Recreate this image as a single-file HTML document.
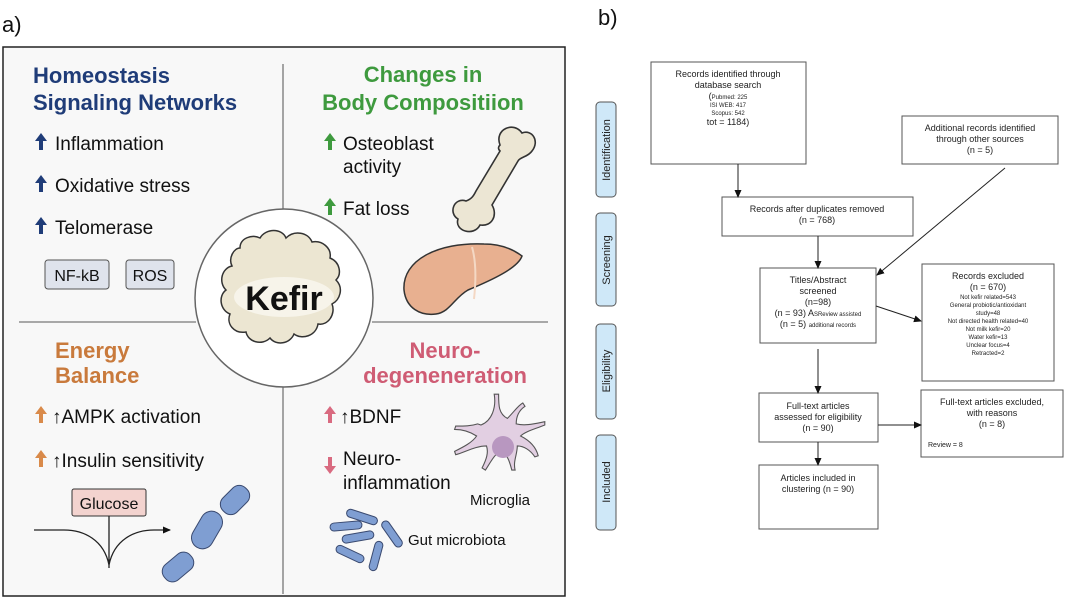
<!DOCTYPE html>
<html><head><meta charset="utf-8"><style>
html,body{margin:0;padding:0;background:#fff;width:1065px;height:599px;overflow:hidden;}
svg{display:block;font-family:"Liberation Sans",Arial,sans-serif;}
</style></head><body>
<svg width="1065" height="599" viewBox="0 0 1065 599" xmlns="http://www.w3.org/2000/svg">
<defs>
<marker id="ah" markerWidth="8" markerHeight="8" refX="7" refY="4" orient="auto" markerUnits="userSpaceOnUse"><path d="M0,0.5 L8,4 L0,7.5z" fill="#111"/></marker>
</defs>
<text x="2" y="32" font-size="22" fill="#111">a)</text>
<rect x="3" y="47" width="562" height="549" fill="#f8f8f8" stroke="#222" stroke-width="1.5"/>
<line x1="283" y1="64" x2="283" y2="212" stroke="#777" stroke-width="1.3"/>
<line x1="283" y1="386" x2="283" y2="594" stroke="#777" stroke-width="1.3"/>
<line x1="19" y1="322" x2="196" y2="322" stroke="#777" stroke-width="1.3"/>
<line x1="372" y1="322" x2="548" y2="322" stroke="#777" stroke-width="1.3"/>

<g font-weight="bold" font-size="22" fill="#1f3c78">
<text x="33" y="83">Homeostasis</text>
<text x="33" y="110">Signaling Networks</text>
</g>
<g font-size="19" fill="#111">
<text x="55" y="150">Inflammation</text>
<text x="55" y="192">Oxidative stress</text>
<text x="55" y="234">Telomerase</text>
</g>
<g fill="#1f3c78">
<path d="M41,133 l-6,8 h4 v9 h4 v-9 h4z"/>
<path d="M41,175 l-6,8 h4 v9 h4 v-9 h4z"/>
<path d="M41,217 l-6,8 h4 v9 h4 v-9 h4z"/>
</g>
<rect x="45" y="260" width="64" height="29" rx="3" fill="#dfe3ec" stroke="#555"/>
<text x="77" y="281" font-size="16" text-anchor="middle" fill="#111">NF-kB</text>
<rect x="126" y="260" width="48" height="29" rx="3" fill="#dfe3ec" stroke="#555"/>
<text x="150" y="281" font-size="16" text-anchor="middle" fill="#111">ROS</text>

<g font-weight="bold" font-size="22" fill="#3e9a3e" text-anchor="middle">
<text x="423" y="82">Changes in</text>
<text x="423" y="110">Body Compositiion</text>
</g>
<g font-size="19" fill="#111">
<text x="343" y="150">Osteoblast</text>
<text x="343" y="173">activity</text>
<text x="343" y="215">Fat loss</text>
</g>
<g fill="#3e9a3e">
<path d="M330,133 l-6,8 h4 v9 h4 v-9 h4z"/>
<path d="M330,198 l-6,8 h4 v9 h4 v-9 h4z"/>
</g>
<g fill="#ece6d4" stroke="#333" stroke-width="1.6">
<path d="M500,145 c-6,-16 14,-24 22,-12 c10,-4 18,8 10,18 c-4,6 -12,6 -14,10 l-26,44 c6,10 0,22 -12,20 c-6,12 -26,6 -22,-6 c-10,-6 -4,-22 8,-18 c6,-2 8,-6 10,-10 l24,-40 c-2,-2 -2,-4 0,-6z"/>
</g>
<path d="M404,290 c-2,-30 34,-48 80,-46 c18,0 30,6 38,12 c-4,12 -30,24 -54,34 c-14,8 -18,22 -32,24 c-16,2 -30,-6 -32,-24z" fill="#e8b090" stroke="#333" stroke-width="1.5"/>
<path d="M472,247 c4,14 4,34 2,52" stroke="#f4d8c4" stroke-width="2" fill="none"/>

<g font-weight="bold" font-size="22" fill="#c97a3c">
<text x="55" y="358">Energy</text>
<text x="55" y="383">Balance</text>
</g>
<g font-size="19" fill="#111">
<text x="52" y="423">↑AMPK activation</text>
<text x="52" y="467">↑Insulin sensitivity</text>
</g>
<g fill="#d98a4a">
<path d="M41,406 l-6,8 h4 v9 h4 v-9 h4z"/>
<path d="M41,450 l-6,8 h4 v9 h4 v-9 h4z"/>
</g>
<rect x="72" y="489" width="74" height="27" rx="2" fill="#f3d3cf" stroke="#333"/>
<text x="109" y="509" font-size="16" text-anchor="middle" fill="#111">Glucose</text>
<path d="M109,516 v52 M34,530 h30 c20,0 40,10 45,35 c5,-25 25,-35 45,-35 h16" stroke="#222" stroke-width="1.3" fill="none" marker-end="url(#ah)"/>
<g fill="#7f9ed2" stroke="#3a4a70" stroke-width="1">
<rect x="-16" y="-10" width="32" height="20" rx="9" transform="translate(235 500) rotate(-45)"/>
<rect x="-20" y="-11" width="40" height="22" rx="11" transform="translate(207 530) rotate(-60)"/>
<rect x="-17" y="-10" width="34" height="20" rx="9" transform="translate(178 567) rotate(-40)"/>
</g>

<g font-weight="bold" font-size="22" fill="#cf5c74" text-anchor="middle">
<text x="445" y="358">Neuro-</text>
<text x="445" y="383">degeneneration</text>
</g>
<g font-size="19" fill="#111">
<text x="340" y="423">↑BDNF</text>
<text x="343" y="465">Neuro-</text>
<text x="343" y="489">inflammation</text>
<text x="470" y="505" font-size="15">Microglia</text>
<text x="408" y="545" font-size="15">Gut microbiota</text>
</g>
<g fill="#d96a80">
<path d="M330,406 l-6,8 h4 v9 h4 v-9 h4z"/>
<path d="M330,474 l-6,-8 h4 v-9 h4 v9 h4z"/>
</g>
<g stroke="#555" stroke-width="1" fill="#e2cfe2" transform="translate(503 447) scale(1.1) translate(-500 -440)">
<path d="M480,420 c10,-4 14,-16 12,-28 l4,0 c0,10 0,18 8,22 c6,-6 10,-12 14,-14 l2,3 c-6,4 -8,10 -8,16 c8,2 16,0 26,-2 l0,3 c-10,4 -18,6 -22,10 c8,4 14,10 16,18 l-3,1 c-4,-6 -10,-10 -16,-10 c0,8 -4,14 -2,22 l-3,0 c-2,-8 -4,-14 -10,-18 c-6,4 -10,12 -14,18 l-3,-2 c4,-8 6,-14 4,-20 c-10,0 -20,6 -28,8 l-1,-3 c8,-4 16,-8 20,-14 c-6,-4 -12,-6 -20,-6 l1,-3 c8,0 14,0 20,-2z"/>
<circle cx="500" cy="440" r="10" fill="#b897c0" stroke="none"/>
</g>
<g fill="#7f9ed2" stroke="#3a4a70" stroke-width="1">
<rect x="-16" y="-4" width="32" height="8" rx="4" transform="translate(362 517) rotate(18)"/>
<rect x="-16" y="-4" width="32" height="8" rx="4" transform="translate(346 526) rotate(-5)"/>
<rect x="-16" y="-4" width="32" height="8" rx="4" transform="translate(358 537) rotate(-10)"/>
<rect x="-15" y="-4" width="30" height="8" rx="4" transform="translate(350 554) rotate(25)"/>
<rect x="-15" y="-4" width="30" height="8" rx="4" transform="translate(392 534) rotate(55)"/>
<rect x="-15" y="-4" width="30" height="8" rx="4" transform="translate(376 556) rotate(-75)"/>
</g>

<circle cx="284" cy="298" r="89" fill="#fff" stroke="#666" stroke-width="1.5"/>
<path d="M240,248 c0,-10 12,-14 20,-10 c6,-10 22,-10 26,0 c8,-8 22,-6 26,4 c10,-2 20,6 18,16 c10,4 12,16 6,22 c8,8 4,20 -4,24 c4,10 -4,22 -14,20 c-2,12 -16,16 -24,10 c-4,10 -18,12 -24,4 c-8,8 -22,4 -24,-6 c-12,2 -20,-8 -16,-18 c-10,-4 -12,-18 -4,-24 c-8,-8 -4,-22 6,-24 c-4,-8 2,-18 8,-18z" fill="#ece6d2" stroke="#333" stroke-width="1.5"/>
<ellipse cx="284" cy="297" rx="50" ry="20" fill="#f7f4ea"/>
<text x="284" y="310" font-size="34" font-weight="bold" text-anchor="middle" fill="#111">Kefir</text>

<text x="598" y="25" font-size="22" fill="#111">b)</text>
<g fill="#cfe8f8" stroke="#555" stroke-width="1">
<rect x="596" y="102" width="20" height="95" rx="4"/>
<rect x="596" y="213" width="20" height="93" rx="4"/>
<rect x="596" y="324" width="20" height="95" rx="4"/>
<rect x="596" y="435" width="20" height="95" rx="4"/>
</g>
<g font-size="11" fill="#222" text-anchor="middle">
<text transform="translate(610 150) rotate(-90)">Identification</text>
<text transform="translate(610 260) rotate(-90)">Screening</text>
<text transform="translate(610 371) rotate(-90)">Eligibility</text>
<text transform="translate(610 482) rotate(-90)">Included</text>
</g>
<g fill="#fff" stroke="#555" stroke-width="1">
<rect x="651" y="62" width="155" height="102"/>
<rect x="902" y="116" width="156" height="48"/>
<rect x="722" y="197" width="191" height="39"/>
<rect x="760" y="268" width="116" height="75"/>
<rect x="922" y="264" width="132" height="117"/>
<rect x="759" y="393" width="119" height="49"/>
<rect x="921" y="390" width="142" height="67"/>
<rect x="759" y="465" width="119" height="64"/>
</g>
<g font-size="9" fill="#222" text-anchor="middle">
<text x="728" y="77">Records identified through</text>
<text x="728" y="88">database search</text>
<text x="728" y="99"><tspan font-size="9">(</tspan><tspan font-size="6">Pubmed: 225</tspan></text>
<text x="728" y="107" font-size="6">ISI WEB: 417</text>
<text x="728" y="115" font-size="6">Scopus: 542</text>
<text x="728" y="125">tot = 1184)</text>
<text x="980" y="131">Additional records identified</text>
<text x="980" y="142">through other sources</text>
<text x="980" y="153">(n = 5)</text>
<text x="817" y="212">Records after duplicates removed</text>
<text x="817" y="223">(n = 768)</text>
<text x="818" y="283">Titles/Abstract</text>
<text x="818" y="294">screened</text>
<text x="818" y="305">(n=98)</text>
<text x="818" y="316">(n = 93) A<tspan font-size="6">SReview assisted</tspan></text>
<text x="818" y="327">(n = 5) <tspan font-size="6">additional records</tspan></text>
<text x="988" y="279">Records excluded</text>
<text x="988" y="290">(n = 670)</text>
<g font-size="6">
<text x="988" y="299">Not kefir related=543</text>
<text x="988" y="307">General probiotic/antioxidant</text>
<text x="988" y="315">study=48</text>
<text x="988" y="323">Not directed health related=40</text>
<text x="988" y="331">Not milk kefir=20</text>
<text x="988" y="339">Water kefir=13</text>
<text x="988" y="347">Unclear focus=4</text>
<text x="988" y="355">Retracted=2</text>
</g>
<text x="818" y="409">Full-text articles</text>
<text x="818" y="420">assessed for eligibility</text>
<text x="818" y="431">(n = 90)</text>
<text x="992" y="405">Full-text articles excluded,</text>
<text x="992" y="416">with reasons</text>
<text x="992" y="427">(n = 8)</text>
<text x="928" y="447" text-anchor="start" font-size="7">Review = 8</text>
<text x="818" y="481">Articles included in</text>
<text x="818" y="492">clustering (n = 90)</text>
</g>
<g stroke="#222" stroke-width="1" marker-end="url(#ah)">
<line x1="738" y1="164" x2="738" y2="197"/>
<line x1="1005" y1="168" x2="877" y2="275"/>
<line x1="818" y1="236" x2="818" y2="268"/>
<line x1="876" y1="306" x2="921" y2="321"/>
<line x1="818" y1="349" x2="818" y2="393"/>
<line x1="878" y1="425" x2="921" y2="425"/>
<line x1="818" y1="442" x2="818" y2="465"/>
</g>
</svg>
</body></html>
